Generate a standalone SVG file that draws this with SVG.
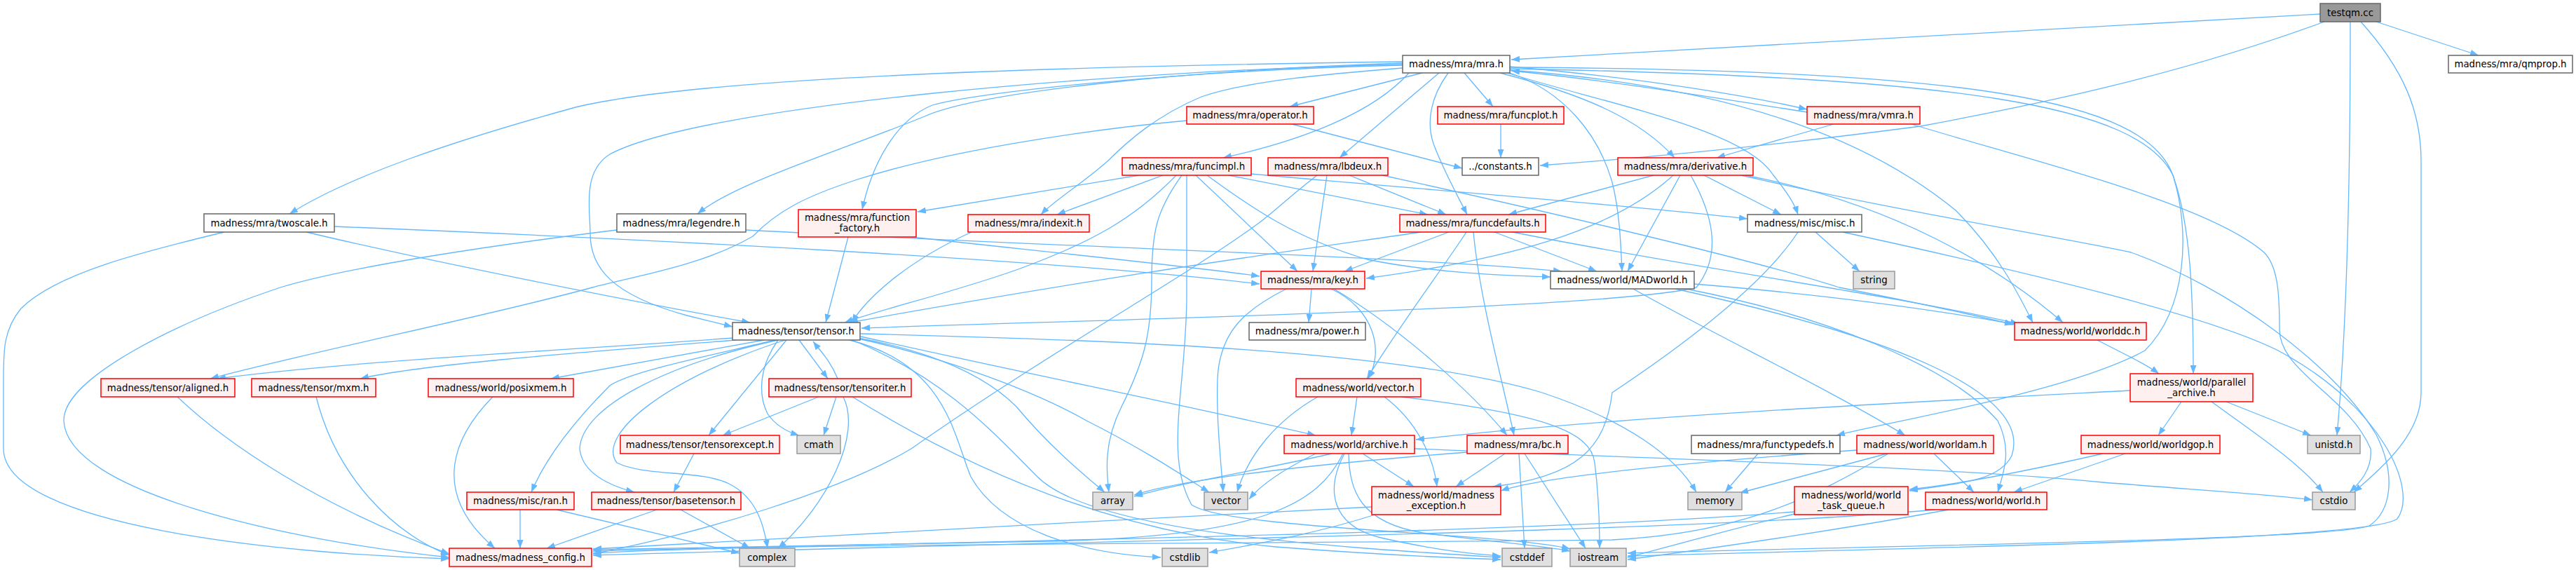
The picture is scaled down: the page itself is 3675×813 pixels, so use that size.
<svg xmlns="http://www.w3.org/2000/svg" width="3675" height="813" viewBox="0 0 3675 813">
<defs>
<style>
.e{fill:none;stroke:#63B8FF;stroke-width:1.3;marker-end:url(#ah)}
.n text{font-family:"DejaVu Sans",Verdana,sans-serif;font-size:13.33px;text-anchor:middle;fill:#000}
.r rect{fill:#FFF0F0;stroke:#FF0000;stroke-width:1.5}
.w rect{fill:#FFFFFF;stroke:#666666;stroke-width:1.5}
.g rect{fill:#E0E0E0;stroke:#999999;stroke-width:1.5}
.root rect{fill:#999999;stroke:#666666;stroke-width:1.5}
</style>
<marker id="ah" markerUnits="userSpaceOnUse" markerWidth="12" markerHeight="9" refX="12" refY="4.5" orient="auto" viewBox="0 0 12 9"><path d="M0,0L12,4.5L0,9z" fill="#63B8FF"/></marker>
</defs>
<rect width="3675" height="813" fill="#FFFFFF"/>
<g id="edges">
<path class="e" d="M3310,20 L2156,85"/>
<path class="e" d="M3390,31 L3536,79"/>
<path class="e" d="M3316,31 C3100,110 2900,150 2740,180 C2550,205 2350,225 2197,236"/>
<path class="e" d="M3353,31 C3353,300 3345,500 3334,621"/>
<path class="e" d="M3368,31 C3430,100 3454,160 3454,230 L3454,560 C3454,620 3400,665 3358,702"/>
<path class="e" d="M2029,104 L1840,152"/>
<path class="e" d="M2089,104 L2130,152"/>
<path class="e" d="M2053,104 L1911,225"/>
<path class="e" d="M2066,104 C2040,140 2035,175 2045,205 C2060,245 2080,280 2093,306"/>
<path class="e" d="M2140,104 C2260,135 2340,170 2389,225"/>
<path class="e" d="M2154,104 C2230,130 2280,190 2300,260 C2310,300 2312,340 2314,387"/>
<path class="e" d="M2150,104 C2300,150 2490,185 2530,250 C2550,275 2560,290 2565,306"/>
<path class="e" d="M2154,95 C2350,112 2500,138 2578,156"/>
<path class="e" d="M2010,104 C1960,160 1860,200 1745,225"/>
<path class="e" d="M2001,93 C1700,100 1400,130 1330,150 C1280,170 1245,230 1230,299"/>
<path class="e" d="M2001,97 C1900,105 1780,115 1714,138 C1650,165 1610,200 1580,230 C1540,265 1505,285 1485,306"/>
<path class="e" d="M2001,88 C1500,95 1000,110 821,153 C650,200 500,250 413,305"/>
<path class="e" d="M2001,90 C1700,100 1400,130 1319,166 C1200,215 1050,260 995,305"/>
<path class="e" d="M2001,92 C1600,100 1000,150 870,220 C830,245 842,300 842,333 C842,380 870,420 980,450 L1045,466"/>
<path class="e" d="M2154,100 C2500,125 2680,210 2790,300 C2850,360 2880,420 2900,460"/>
<path class="e" d="M2154,98 C2800,110 3050,150 3100,250 C3125,320 3129,420 3129,533"/>
<path class="e" d="M2154,96 C2800,100 3060,140 3100,250 C3125,330 3120,440 3060,500 C2950,560 2700,600 2620,621"/>
<path class="e" d="M2578,160 C2450,140 2300,115 2156,101"/>
<path class="e" d="M2616,177 L2449,225"/>
<path class="e" d="M2727,177 C2900,230 3150,290 3230,360 C3250,380 3252,420 3252,470 C3252,530 3350,565 3382,640 C3385,670 3365,690 3352,702"/>
<path class="e" d="M1843,177 L2086,240"/>
<path class="e" d="M1693,172 C1550,185 1350,215 1220,257 C1150,280 1110,300 1074,337 C1000,380 900,395 845,410 C700,450 450,500 300,540"/>
<path class="e" d="M2141,177 L2141,225"/>
<path class="e" d="M1625,250 L1309,302"/>
<path class="e" d="M1659,250 L1508,306"/>
<path class="e" d="M1678,250 C1620,310 1560,345 1450,385 C1350,420 1260,440 1205,460"/>
<path class="e" d="M1686,250 C1650,300 1643,330 1643,400 C1643,480 1630,520 1600,580 C1575,630 1578,670 1582,702"/>
<path class="e" d="M1693,250 L1693,420 C1693,550 1660,650 1700,720 C1750,755 2150,760 2240,783"/>
<path class="e" d="M1706,250 L1851,387"/>
<path class="e" d="M1722,250 C1790,300 1850,340 1950,370 C2050,390 2150,393 2212,395"/>
<path class="e" d="M1753,250 L2037,306"/>
<path class="e" d="M1785,248 C2000,268 2300,290 2493,312"/>
<path class="e" d="M1925,250 L2063,306"/>
<path class="e" d="M1893,250 L1873,387"/>
<path class="e" d="M1879,250 C1840,280 1820,300 1800,315 C1700,390 1500,500 1300,640 C1200,700 1000,760 846,790"/>
<path class="e" d="M1972,250 C2200,300 2500,370 2624,410 C2700,425 2800,445 2872,463"/>
<path class="e" d="M2359,250 L2152,306"/>
<path class="e" d="M2387,250 C2300,330 2150,370 1949,397"/>
<path class="e" d="M2397,250 L2322,387"/>
<path class="e" d="M2431,250 L2541,306"/>
<path class="e" d="M2412,250 C2440,300 2460,360 2420,410 C2300,440 1600,455 1229,468"/>
<path class="e" d="M2484,250 C2700,300 2950,340 3040,360 C3180,410 3330,520 3390,620 C3420,680 3410,730 3380,750 C3330,770 2700,778 2322,789"/>
<path class="e" d="M2490,250 C2700,290 2850,380 2943,460"/>
<path class="e" d="M2067,331 L1918,387"/>
<path class="e" d="M2132,331 L2278,387"/>
<path class="e" d="M2027,331 C1900,350 1600,390 1212,460"/>
<path class="e" d="M2092,331 C2060,380 2000,460 1950,540"/>
<path class="e" d="M2102,331 C2110,420 2140,530 2160,621"/>
<path class="e" d="M2158,331 C2400,380 2700,420 2880,462"/>
<path class="e" d="M1871,412 L1867,460"/>
<path class="e" d="M1899,412 C1960,440 1975,500 1952,540"/>
<path class="e" d="M1903,412 C2000,470 2100,560 2150,621"/>
<path class="e" d="M1835,412 C1780,440 1740,470 1737,540 C1735,600 1742,660 1745,702"/>
<path class="e" d="M1047,482 C800,500 500,515 310,540"/>
<path class="e" d="M1050,485 C800,505 600,520 514,540"/>
<path class="e" d="M1090,485 L786,540"/>
<path class="e" d="M1140,485 L1181,540"/>
<path class="e" d="M1122,485 L1011,621"/>
<path class="e" d="M1110,485 C1085,520 1080,560 1095,590 C1105,605 1120,615 1140,621"/>
<path class="e" d="M1106,485 C1000,510 900,530 870,550 C820,600 780,650 758,702"/>
<path class="e" d="M1110,485 C950,520 830,580 827,640 C830,670 860,690 905,702"/>
<path class="e" d="M1120,485 C950,540 850,620 880,660 C920,680 1000,670 1040,690 C1080,710 1090,750 1095,782"/>
<path class="e" d="M1212,485 C1350,520 1360,620 1385,680 C1430,760 1550,790 1656,795"/>
<path class="e" d="M1224,482 C1320,500 1400,530 1450,580 C1500,640 1550,680 1576,702"/>
<path class="e" d="M1224,483 C1350,510 1480,560 1550,600 C1630,640 1690,680 1725,702"/>
<path class="e" d="M1216,485 C1350,540 1420,620 1480,680 C1560,760 1900,780 2141,795"/>
<path class="e" d="M1228,480 C1450,530 1700,580 1877,621"/>
<path class="e" d="M1228,476 C1600,485 2000,500 2200,560 C2320,600 2390,650 2420,702"/>
<path class="e" d="M1195,540 C1185,515 1170,500 1160,487"/>
<path class="e" d="M1168,566 L1031,621"/>
<path class="e" d="M1193,566 L1175,621"/>
<path class="e" d="M1203,566 C1230,620 1180,720 1110,782"/>
<path class="e" d="M1216,566 C1400,680 1600,760 1820,780 C1950,790 2050,795 2141,798"/>
<path class="e" d="M990,647 L961,702"/>
<path class="e" d="M937,727 L780,782"/>
<path class="e" d="M971,727 L1070,782"/>
<path class="e" d="M742,727 L742,782"/>
<path class="e" d="M794,727 L1055,789"/>
<path class="e" d="M703,566 C650,620 610,700 706,782"/>
<path class="e" d="M253,566 C320,630 450,720 641,790"/>
<path class="e" d="M451,566 C480,680 560,760 641,792"/>
<path class="e" d="M320,331 C200,360 80,390 30,440 C5,470 5,500 5,540 L5,640 C5,750 400,790 641,797"/>
<path class="e" d="M437,331 C600,370 900,430 1070,460"/>
<path class="e" d="M477,323 C900,340 1500,370 1797,405"/>
<path class="e" d="M880,328 C700,350 500,380 400,410 C250,460 90,540 91,600 C95,700 400,770 641,795"/>
<path class="e" d="M1064,328 C1500,352 2000,365 2228,387"/>
<path class="e" d="M1210,338 L1178,460"/>
<path class="e" d="M1299,338 C1500,360 1700,380 1797,394"/>
<path class="e" d="M1386,331 C1300,370 1240,420 1215,460"/>
<path class="e" d="M2590,331 L2653,387"/>
<path class="e" d="M2565,331 C2520,400 2420,480 2300,560 C2290,640 2250,680 2130,694"/>
<path class="e" d="M2629,331 C2900,390 3150,450 3250,500 C3400,580 3450,700 3420,740 C3380,770 2800,780 2322,793"/>
<path class="e" d="M2330,412 C2450,480 2600,550 2718,621"/>
<path class="e" d="M2417,405 C2600,420 2750,440 2872,462"/>
<path class="e" d="M2405,412 C2600,450 2780,520 2850,600 C2870,640 2860,670 2850,702"/>
<path class="e" d="M2390,412 C2700,480 2900,560 2870,650 C2850,690 2780,690 2724,700"/>
<path class="e" d="M2992,485 C3030,505 3060,518 3080,533"/>
<path class="e" d="M3039,557 C2700,575 2300,595 2020,627"/>
<path class="e" d="M3112,573 L3079,621"/>
<path class="e" d="M3176,573 L3297,621"/>
<path class="e" d="M3155,573 C3220,620 3280,660 3314,702"/>
<path class="e" d="M2508,647 L2461,702"/>
<path class="e" d="M2759,647 L2816,702"/>
<path class="e" d="M2692,647 L2482,703"/>
<path class="e" d="M2649,642 C2400,660 2200,680 2141,700"/>
<path class="e" d="M2694,647 C2600,700 2500,760 2300,770 C1800,776 1100,774 846,789"/>
<path class="e" d="M3000,647 C2900,670 2800,690 2724,698"/>
<path class="e" d="M3032,647 L2873,702"/>
<path class="e" d="M2560,730 C2200,760 1400,772 846,786"/>
<path class="e" d="M2560,733 C2450,760 2380,780 2322,795"/>
<path class="e" d="M2780,727 C2600,760 2420,785 2322,798"/>
<path class="e" d="M2760,727 C2400,760 1500,772 846,792"/>
<path class="e" d="M1877,647 C1830,670 1800,690 1782,712"/>
<path class="e" d="M1900,647 C1800,670 1700,685 1618,708"/>
<path class="e" d="M1916,647 C1880,720 1800,765 1500,772 C1200,778 950,782 846,784"/>
<path class="e" d="M1918,647 C1890,700 1900,750 1970,767 C2050,785 2100,790 2141,793"/>
<path class="e" d="M1924,647 C1925,700 1940,745 2030,760 C2120,772 2200,778 2240,786"/>
<path class="e" d="M1944,647 L2017,694"/>
<path class="e" d="M2018,640 C2400,655 2800,668 3000,688 C3150,700 3250,706 3299,713"/>
<path class="e" d="M1936,566 L1928,621"/>
<path class="e" d="M1975,566 C2020,600 2045,650 2050,694"/>
<path class="e" d="M1999,566 C2200,590 2270,615 2275,660 C2280,700 2282,750 2282,782"/>
<path class="e" d="M1880,566 C1820,600 1780,650 1765,702"/>
<path class="e" d="M2147,647 L2077,694"/>
<path class="e" d="M2167,647 L2175,782"/>
<path class="e" d="M2175,647 L2262,782"/>
<path class="e" d="M2093,645 C1900,660 1700,680 1618,706"/>
<path class="e" d="M1957,723 C1600,740 1100,770 846,783"/>
<path class="e" d="M1962,734 C1880,760 1800,775 1725,788"/>
</g>
<g id="testqm" class="n root"><rect x="3310" y="5" width="86" height="26"/><text x="3353" y="22.5">testqm.cc</text></g>
<g id="mra" class="n w"><rect x="2001" y="79" width="153" height="25"/><text x="2077.5" y="96">madness/mra/mra.h</text></g>
<g id="qmprop" class="n w"><rect x="3493" y="79" width="177" height="25"/><text x="3581.5" y="96">madness/mra/qmprop.h</text></g>
<g id="operator" class="n r"><rect x="1693" y="152" width="181" height="25"/><text x="1783.5" y="169">madness/mra/operator.h</text></g>
<g id="funcplot" class="n r"><rect x="2051" y="152" width="180" height="25"/><text x="2141" y="169">madness/mra/funcplot.h</text></g>
<g id="vmra" class="n r"><rect x="2578" y="152" width="161" height="25"/><text x="2658.5" y="169">madness/mra/vmra.h</text></g>
<g id="funcimpl" class="n r"><rect x="1601" y="225" width="184" height="25"/><text x="1693" y="242">madness/mra/funcimpl.h</text></g>
<g id="lbdeux" class="n r"><rect x="1809" y="225" width="171" height="25"/><text x="1894.5" y="242">madness/mra/lbdeux.h</text></g>
<g id="constants" class="n w"><rect x="2086" y="225" width="109" height="25"/><text x="2140.5" y="242">../constants.h</text></g>
<g id="derivative" class="n r"><rect x="2308" y="225" width="193" height="25"/><text x="2404.5" y="242">madness/mra/derivative.h</text></g>
<g id="twoscale" class="n w"><rect x="291" y="305" width="186" height="26"/><text x="384" y="322.5">madness/mra/twoscale.h</text></g>
<g id="legendre" class="n w"><rect x="880" y="305" width="184" height="26"/><text x="972" y="322.5">madness/mra/legendre.h</text></g>
<g id="function_factory" class="n r"><rect x="1139" y="299" width="168" height="39"/><text x="1223" y="314.5">madness/mra/function</text><text x="1223" y="329.5">_factory.h</text></g>
<g id="indexit" class="n r"><rect x="1381" y="306" width="173" height="25"/><text x="1467.5" y="323">madness/mra/indexit.h</text></g>
<g id="funcdefaults" class="n r"><rect x="1997" y="306" width="208" height="25"/><text x="2101" y="323">madness/mra/funcdefaults.h</text></g>
<g id="misc" class="n w"><rect x="2493" y="306" width="163" height="25"/><text x="2574.5" y="323">madness/misc/misc.h</text></g>
<g id="key" class="n r"><rect x="1799" y="387" width="148" height="25"/><text x="1873" y="404">madness/mra/key.h</text></g>
<g id="MADworld" class="n w"><rect x="2212" y="387" width="205" height="25"/><text x="2314.5" y="404">madness/world/MADworld.h</text></g>
<g id="string" class="n g"><rect x="2644" y="387" width="59" height="25"/><text x="2673.5" y="404">string</text></g>
<g id="tensor" class="n w"><rect x="1045" y="460" width="182" height="25"/><text x="1136" y="477">madness/tensor/tensor.h</text></g>
<g id="power" class="n w"><rect x="1782" y="460" width="166" height="25"/><text x="1865" y="477">madness/mra/power.h</text></g>
<g id="worlddc" class="n r"><rect x="2874" y="460" width="188" height="25"/><text x="2968" y="477">madness/world/worlddc.h</text></g>
<g id="aligned" class="n r"><rect x="144" y="540" width="191" height="26"/><text x="239.5" y="557.5">madness/tensor/aligned.h</text></g>
<g id="mxm" class="n r"><rect x="359" y="540" width="177" height="26"/><text x="447.5" y="557.5">madness/tensor/mxm.h</text></g>
<g id="posixmem" class="n r"><rect x="611" y="540" width="207" height="26"/><text x="714.5" y="557.5">madness/world/posixmem.h</text></g>
<g id="tensoriter" class="n r"><rect x="1097" y="540" width="203" height="26"/><text x="1198.5" y="557.5">madness/tensor/tensoriter.h</text></g>
<g id="world_vector" class="n r"><rect x="1849" y="540" width="178" height="26"/><text x="1938" y="557.5">madness/world/vector.h</text></g>
<g id="parallel_archive" class="n r"><rect x="3039" y="533" width="175" height="40"/><text x="3126.5" y="549.5">madness/world/parallel</text><text x="3126.5" y="564.5">_archive.h</text></g>
<g id="tensorexcept" class="n r"><rect x="885" y="621" width="227" height="26"/><text x="998.5" y="638.5">madness/tensor/tensorexcept.h</text></g>
<g id="cmath" class="n g"><rect x="1137" y="621" width="62" height="26"/><text x="1168" y="638.5">cmath</text></g>
<g id="archive" class="n r"><rect x="1832" y="621" width="186" height="26"/><text x="1925" y="638.5">madness/world/archive.h</text></g>
<g id="bc" class="n r"><rect x="2093" y="621" width="144" height="26"/><text x="2165" y="638.5">madness/mra/bc.h</text></g>
<g id="functypedefs" class="n w"><rect x="2413" y="621" width="212" height="26"/><text x="2519" y="638.5">madness/mra/functypedefs.h</text></g>
<g id="worldam" class="n r"><rect x="2649" y="621" width="195" height="26"/><text x="2746.5" y="638.5">madness/world/worldam.h</text></g>
<g id="worldgop" class="n r"><rect x="2969" y="621" width="198" height="26"/><text x="3068" y="638.5">madness/world/worldgop.h</text></g>
<g id="unistd" class="n g"><rect x="3292" y="621" width="75" height="26"/><text x="3329.5" y="638.5">unistd.h</text></g>
<g id="ran" class="n r"><rect x="666" y="702" width="153" height="25"/><text x="742.5" y="719">madness/misc/ran.h</text></g>
<g id="basetensor" class="n r"><rect x="844" y="702" width="213" height="25"/><text x="950.5" y="719">madness/tensor/basetensor.h</text></g>
<g id="array" class="n g"><rect x="1559" y="702" width="57" height="25"/><text x="1587.5" y="719">array</text></g>
<g id="vector" class="n g"><rect x="1718" y="702" width="62" height="25"/><text x="1749" y="719">vector</text></g>
<g id="madness_exception" class="n r"><rect x="1957" y="694" width="184" height="40"/><text x="2049" y="710.5">madness/world/madness</text><text x="2049" y="725.5">_exception.h</text></g>
<g id="memory" class="n g"><rect x="2408" y="702" width="77" height="25"/><text x="2446.5" y="719">memory</text></g>
<g id="world_task_queue" class="n r"><rect x="2560" y="694" width="162" height="40"/><text x="2641" y="710.5">madness/world/world</text><text x="2641" y="725.5">_task_queue.h</text></g>
<g id="world" class="n r"><rect x="2747" y="702" width="173" height="25"/><text x="2833.5" y="719">madness/world/world.h</text></g>
<g id="cstdio" class="n g"><rect x="3299" y="702" width="61" height="25"/><text x="3329.5" y="719">cstdio</text></g>
<g id="madness_config" class="n r"><rect x="641" y="782" width="203" height="26"/><text x="742.5" y="799.5">madness/madness_config.h</text></g>
<g id="complex" class="n g"><rect x="1055" y="782" width="79" height="26"/><text x="1094.5" y="799.5">complex</text></g>
<g id="cstdlib" class="n g"><rect x="1658" y="782" width="65" height="26"/><text x="1690.5" y="799.5">cstdlib</text></g>
<g id="cstddef" class="n g"><rect x="2143" y="782" width="71" height="26"/><text x="2178.5" y="799.5">cstddef</text></g>
<g id="iostream" class="n g"><rect x="2240" y="782" width="80" height="26"/><text x="2280" y="799.5">iostream</text></g>
</svg>
